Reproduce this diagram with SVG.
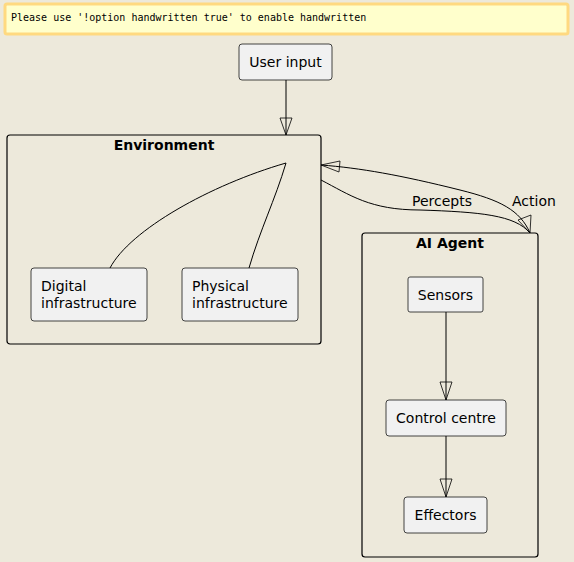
<svg xmlns="http://www.w3.org/2000/svg" width="574" height="562" viewBox="0 0 574 562">
<style>
.node{fill:#F1F1F1;stroke:#181818;stroke-width:0.8}
.frame{fill:none;stroke:#000;stroke-width:1.2}
.t{font-family:"DejaVu Sans",sans-serif;font-size:14px;fill:#000}
.b{font-family:"DejaVu Sans",sans-serif;font-size:14px;font-weight:bold;fill:#000}
.c{fill:none;stroke:#000;stroke-width:1}
.head{fill:none;stroke:#000;stroke-width:0.8}
</style>
<rect x="0" y="0" width="574" height="562" fill="#EDE9DB"/>
<g id="note">
<rect x="5" y="4" width="563" height="30" rx="2" fill="#FFFFCC" stroke="#FFD980" stroke-width="3"/>
<text x="11" y="21" font-family="DejaVu Sans Mono,monospace" font-size="10">Please use '!option handwritten true' to enable handwritten</text>
</g>
<g id="environment">
<rect class="frame" x="7" y="135" width="314" height="209" rx="3"/>
<text class="b" x="164" y="150" text-anchor="middle">Environment</text>
</g>
<g id="ai-agent">
<rect class="frame" x="362" y="233" width="176" height="324" rx="3"/>
<text class="b" x="450" y="248" text-anchor="middle">AI Agent</text>
</g>
<g id="user-input">
<rect class="node" x="239" y="44" width="93" height="36" rx="3"/>
<text class="t" x="285.5" y="67" text-anchor="middle">User input</text>
</g>
<g id="digital">
<rect class="node" x="31" y="268" width="116" height="53" rx="3"/>
<text class="t" x="41" y="291">Digital</text>
<text class="t" x="41" y="308">infrastructure</text>
</g>
<g id="physical">
<rect class="node" x="182" y="268" width="116" height="53" rx="3"/>
<text class="t" x="192" y="291">Physical</text>
<text class="t" x="192" y="308">infrastructure</text>
</g>
<g id="sensors">
<rect class="node" x="408" y="277" width="75" height="35" rx="2"/>
<text class="t" x="445.5" y="300" text-anchor="middle">Sensors</text>
</g>
<g id="control-centre">
<rect class="node" x="386" y="400" width="120" height="36" rx="3"/>
<text class="t" x="446" y="423" text-anchor="middle">Control centre</text>
</g>
<g id="effectors">
<rect class="node" x="404" y="497" width="83" height="36" rx="3"/>
<text class="t" x="445.5" y="520" text-anchor="middle">Effectors</text>
</g>
<g id="connectors">
<path class="c" d="M286,80 L286,135"/>
<path class="head" d="M280,118 L292,118 L286,135 Z"/>
<path class="c" d="M286,163 C210,185 130,230 110,268"/>
<path class="c" d="M286,163 C275,200 260,230 249,268"/>
<path class="c" d="M321,180 C350,195 370,210 420,210 C480,212 515,215 530,233"/>
<path class="head" d="M518,220 L531,215 L530,233 Z"/>
<text class="t" x="412" y="206" font-size="13">Percepts</text>
<path class="c" d="M530,233 C520,210 500,200 460,190 C400,175 360,168 321,165"/>
<path class="head" d="M321,165 L340,161 L339,172 Z"/>
<text class="t" x="512" y="206" font-size="13">Action</text>
<path class="c" d="M446,312 L446,400"/>
<path class="head" d="M440,382 L452,382 L446,400 Z"/>
<path class="c" d="M446,436 L446,497"/>
<path class="head" d="M440,479 L452,479 L446,497 Z"/>
</g>
</svg>
